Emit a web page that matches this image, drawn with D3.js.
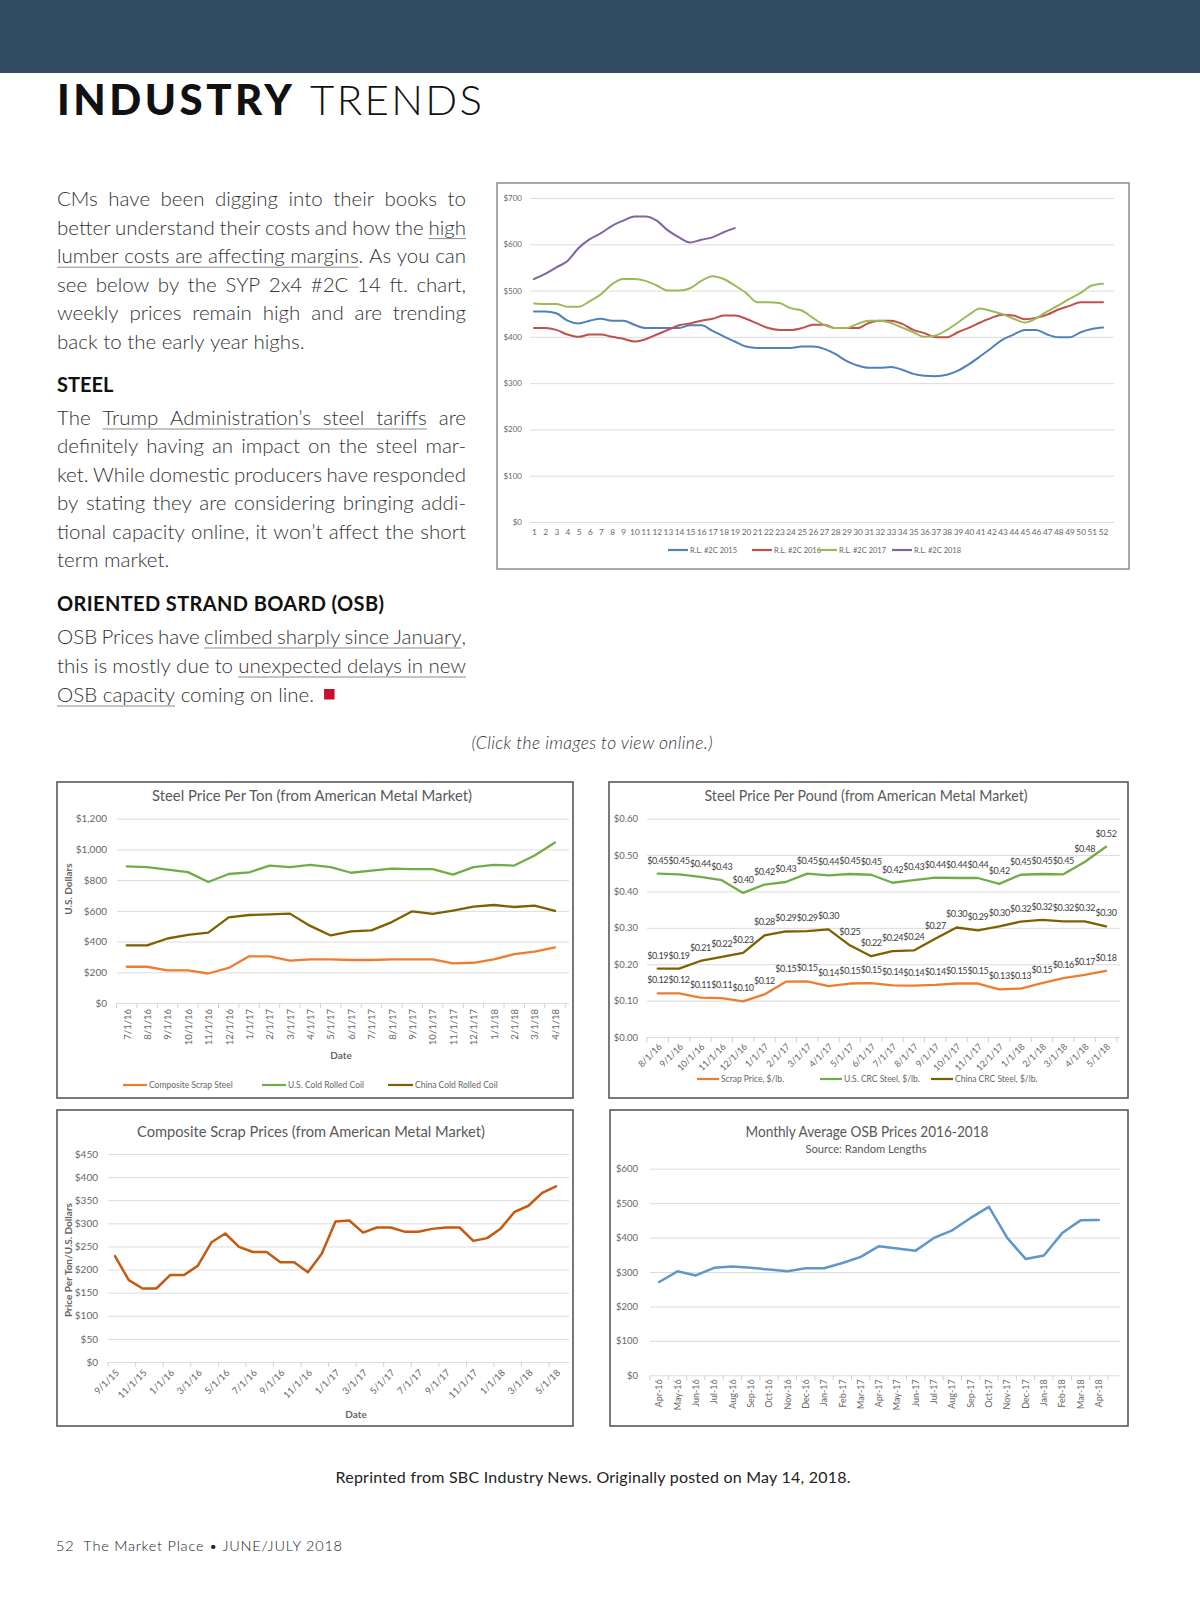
<!DOCTYPE html>
<html>
<head>
<meta charset="utf-8">
<script src="https://cdn.jsdelivr.net/npm/d3@7"></script>
<style>
  body { margin: 0; background: #fff; }
  svg text { font-family: Lato, "Open Sans", sans-serif; }
</style>
</head>
<body>
<svg id="page" width="1200" height="1606"></svg>
<script>
// ---- texte de la page ----
const para1 = [
  "CMs have been digging into their books to",
  "better understand their costs and how the _high_",
  "_lumber costs are affecting margins_. As you can",
  "see below by the SYP 2x4 #2C 14 ft. chart,",
  "weekly prices remain high and are trending",
  "back to the early year highs."
];
const paraSteel = [
  "The _Trump Administration’s steel tariffs_ are",
  "definitely having an impact on the steel mar-",
  "ket. While domestic producers have responded",
  "by stating they are considering bringing addi-",
  "tional capacity online, it won’t affect the short",
  "term market."
];
const paraOsb = [
  "OSB Prices have _climbed sharply since January_,",
  "this is mostly due to _unexpected delays in new_",
  "_OSB capacity_ coming on line."
];

// ---- SYP 2x4 #2C 14 ft, prix hebdo ----
const weeks = [1,2,3,4,5,6,7,8,9,10,11,12,13,14,15,16,17,18,19,20,21,22,23,24,25,26,
  27,28,29,30,31,32,33,34,35,36,37,38,39,40,41,42,43,44,45,46,47,48,49,50,51,52];
const lumberTicks = [0,100,200,300,400,500,600,700];
const lumber2015 = [455,455,451,435,429,435,439,435,435,426,419,419,419,419,425,425,413,401,390,379,
  376,376,376,376,379,379,374,363,348,338,333,333,335,329,320,316,315,318,327,341,358,376,394,405,415,
  415,405,399,399,410,417,420];
const lumber2016 = [419,419,415,405,400,405,405,400,396,390,395,405,415,425,429,435,439,446,446,439,
  429,419,415,415,419,426,426,419,419,419,430,435,435,428,415,408,399,399,410,420,431,441,448,446,438,
  441,448,459,467,475,475,475];
const lumber2017 = [472,471,471,465,465,477,492,514,525,525,521,511,500,500,505,521,531,525,511,495,
  475,475,473,462,457,441,426,419,419,428,435,435,430,420,410,400,403,415,431,448,461,456,449,439,431,
  440,455,468,482,495,511,515];
const lumber2018 = [525,536,550,564,592,611,624,640,651,660,660,651,630,615,604,610,615,626,635];
const lumberNames = ["R.L. #2C 2015","R.L. #2C 2016","R.L. #2C 2017","R.L. #2C 2018"];

// ---- acier, prix a la tonne ----
const tonDates = ["7/1/16","8/1/16","9/1/16","10/1/16","11/1/16","12/1/16","1/1/17","2/1/17","3/1/17",
  "4/1/17","5/1/17","6/1/17","7/1/17","8/1/17","9/1/17","10/1/17","11/1/17","12/1/17","1/1/18","2/1/18",
  "3/1/18","4/1/18"];
const tonTicks = [0,200,400,600,800,1000,1200];
const tonScrap = [236,236,212,212,192,228,304,304,276,284,284,280,280,284,284,284,258,262,284,318,334,362];
const tonUS = [890,885,868,852,788,840,850,895,885,900,885,848,862,875,872,872,836,885,900,895,960,1045];
const tonChina = [375,375,420,443,458,558,573,577,582,502,440,467,473,527,597,580,602,627,638,625,634,600];
const tonNames = ["Composite Scrap Steel","U.S. Cold Rolled Coil","China Cold Rolled Coil"];

// ---- acier, prix a la livre ----
const lbDates = ["8/1/16","9/1/16","10/1/16","11/1/16","12/1/16","1/1/17","2/1/17","3/1/17","4/1/17",
  "5/1/17","6/1/17","7/1/17","8/1/17","9/1/17","10/1/17","11/1/17","12/1/17","1/1/18","2/1/18","3/1/18",
  "4/1/18","5/1/18"];
const lbTicks = [0,0.1,0.2,0.3,0.4,0.5,0.6];
const lbScrap = [0.12,0.12,0.108,0.107,0.098,0.117,0.152,0.153,0.14,0.147,0.148,0.142,0.141,0.143,0.147,
  0.147,0.131,0.133,0.148,0.162,0.171,0.182];
const lbUS = [0.449,0.447,0.44,0.431,0.396,0.419,0.426,0.449,0.444,0.448,0.446,0.424,0.431,0.438,0.437,
  0.437,0.421,0.446,0.448,0.447,0.481,0.523];
const lbChina = [0.188,0.188,0.209,0.22,0.231,0.279,0.29,0.291,0.296,0.252,0.222,0.236,0.238,0.27,0.301,
  0.293,0.304,0.317,0.322,0.318,0.318,0.304];
const lbNames = ["Scrap Price, $/lb.","U.S. CRC Steel, $/lb.","China CRC Steel, $/lb."];

// ---- ferraille composite ----
const scrapMonths = ["9/1/15","10/1/15","11/1/15","12/1/15","1/1/16","2/1/16","3/1/16","4/1/16","5/1/16",
  "6/1/16","7/1/16","8/1/16","9/1/16","10/1/16","11/1/16","12/1/16","1/1/17","2/1/17","3/1/17","4/1/17",
  "5/1/17","6/1/17","7/1/17","8/1/17","9/1/17","10/1/17","11/1/17","12/1/17","1/1/18","2/1/18","3/1/18",
  "4/1/18","5/1/18"];
const scrapTicks = [0,50,100,150,200,250,300,350,400,450];
const scrapPrice = [229,177,159,159,188,188,208,259,278,249,238,238,216,216,194,234,304,306,280,291,
  291,282,282,288,291,291,262,268,289,325,338,366,380];

// ---- OSB ----
const osbMonths = ["Apr-16","May-16","Jun-16","Jul-16","Aug-16","Sep-16","Oct-16","Nov-16","Dec-16",
  "Jan-17","Feb-17","Mar-17","Apr-17","May-17","Jun-17","Jul-17","Aug-17","Sep-17","Oct-17","Nov-17",
  "Dec-17","Jan-18","Feb-18","Mar-18","Apr-18"];
const osbTicks = [0,100,200,300,400,500,600];
const osbPrice = [271,302,290,312,316,312,307,302,311,311,326,344,375,368,362,399,421,457,489,399,
  338,348,413,450,451];

const svg = d3.select("#page");
const grey = "#666";

// bandeau
svg.append("rect").attr("width", 1200).attr("height", 73).attr("fill", "#304a61");

// titre
svg.append("text").attr("x", 57).attr("y", 115).attr("font-size", 42).attr("font-weight", 900)
  .attr("fill", "#111").attr("textLength", 235).attr("lengthAdjust", "spacing").text("INDUSTRY");
svg.append("text").attr("x", 310).attr("y", 115).attr("font-size", 42).attr("font-weight", 300)
  .attr("fill", "#111").attr("textLength", 172).attr("lengthAdjust", "spacing").text("TRENDS");

// texte justifie, mot par mot
const body = svg.append("g").attr("font-size", 20.5).attr("font-weight", 300).attr("fill", "#333");
const probe = body.append("text").text("x x");
const spaceW = probe.node().getComputedTextLength() - (probe.text("xx"), probe.node().getComputedTextLength());
probe.remove();

function underline(run, y) {
  body.append("line").attr("x1", run[0]).attr("x2", run[1]).attr("y1", y + 4).attr("y2", y + 4)
    .attr("stroke", "#8a8a8a").attr("stroke-width", 1);
}

function setText(lines, x, y0, lh, width) {
  const ends = [];
  lines.forEach((src, li) => {
    const y = y0 + li * lh;
    const justify = li < lines.length - 1;
    let u = false;
    const words = src.split(" ").map(w => {
      const parts = [];
      let cur = "";
      for (const ch of w) {
        if (ch === "_") { if (cur) parts.push({ t: cur, u }); cur = ""; u = !u; }
        else cur += ch;
      }
      if (cur) parts.push({ t: cur, u });
      return parts;
    });
    words.forEach(ps => ps.forEach(p => {
      p.node = body.append("text").attr("y", y).text(p.t);
      p.w = p.node.node().getComputedTextLength();
    }));
    const widths = words.map(ps => d3.sum(ps, p => p.w));
    const gap = justify ? (width - d3.sum(widths)) / (words.length - 1) : spaceW;
    let cx = x, run = null;
    words.forEach((ps, wi) => {
      ps.forEach(p => {
        p.node.attr("x", cx);
        if (p.u) { if (run) run[1] = cx + p.w; else run = [cx, cx + p.w]; }
        else if (run) { underline(run, y); run = null; }
        cx += p.w;
      });
      if (wi < words.length - 1) cx += gap;
    });
    if (run) underline(run, y);
    ends.push(cx);
  });
  return ends;
}

setText(para1, 57, 206, 28.6, 409);
svg.append("text").attr("x", 57).attr("y", 392).attr("font-size", 20).attr("font-weight", 700)
  .attr("fill", "#111").text("STEEL");
setText(paraSteel, 57, 425, 28.4, 409);
svg.append("text").attr("x", 57).attr("y", 611).attr("font-size", 20).attr("font-weight", 700)
  .attr("fill", "#111").attr("textLength", 327).attr("lengthAdjust", "spacing")
  .text("ORIENTED STRAND BOARD (OSB)");
const osbEnds = setText(paraOsb, 57, 644, 29, 409);
svg.append("rect").attr("x", osbEnds[2] + 10).attr("y", 689).attr("width", 10.5).attr("height", 10.5)
  .attr("fill", "#c8102e");

svg.append("text").attr("x", 592).attr("y", 749).attr("text-anchor", "middle").attr("font-size", 17.5)
  .attr("font-style", "italic").attr("font-weight", 300).attr("fill", "#333")
  .attr("textLength", 241).attr("lengthAdjust", "spacing")
  .text("(Click the images to view online.)");
svg.append("text").attr("x", 593).attr("y", 1483).attr("text-anchor", "middle").attr("font-size", 16)
  .attr("fill", "#222").attr("textLength", 515).attr("lengthAdjust", "spacing")
  .text("Reprinted from SBC Industry News. Originally posted on May 14, 2018.");
svg.append("text").attr("x", 56).attr("y", 1551).attr("font-size", 14.5).attr("font-weight", 300)
  .attr("fill", "#222").attr("textLength", 286).attr("lengthAdjust", "spacing")
  .style("white-space", "pre").text("52  The Market Place • JUNE/JULY 2018");

// ---- outils des graphiques ----
function frame(x, y, w, h, stroke) {
  svg.append("rect").attr("x", x).attr("y", y).attr("width", w).attr("height", h)
    .attr("fill", "#fff").attr("stroke", stroke).attr("stroke-width", 1.5);
}
function yGrid(y, ticks, fmt, x0, x1, pad, size) {
  const g = svg.append("g").attr("transform", `translate(${x0},0)`)
    .call(d3.axisLeft(y).tickValues(ticks).tickFormat(fmt).tickSize(-(x1 - x0)).tickPadding(pad));
  g.attr("font-family", null).attr("font-size", size);
  g.select(".domain").remove();
  g.selectAll(".tick line").attr("stroke", "#dcdcdc");
  g.selectAll(".tick text").attr("fill", grey);
  return g;
}
function series(xf, y, vals, color, w, curve) {
  svg.append("path").datum(vals).attr("fill", "none").attr("stroke", color).attr("stroke-width", w)
    .attr("stroke-linejoin", "round").attr("stroke-linecap", "round")
    .attr("d", d3.line().x((d, i) => xf(i)).y(d => y(d)).curve(curve || d3.curveLinear));
}
function legendItem(x0, x1, y, color, label, size) {
  svg.append("line").attr("x1", x0).attr("x2", x1).attr("y1", y).attr("y2", y)
    .attr("stroke", color).attr("stroke-width", 2.2);
  svg.append("text").attr("x", x1 + 2).attr("y", y).attr("dy", "0.35em").attr("font-size", size)
    .attr("fill", grey).text(label);
}
function title(x, y, txt, size, len) {
  svg.append("text").attr("x", x).attr("y", y).attr("text-anchor", "middle").attr("font-size", size)
    .attr("fill", "#595959").attr("textLength", len).attr("lengthAdjust", "spacingAndGlyphs").text(txt);
}
function xLabels(xs, y, angle, size, pad, show) {
  const g = svg.append("g").attr("transform", `translate(0,${y})`)
    .call(d3.axisBottom(xs).tickSize(0).tickPadding(0));
  g.attr("font-family", null).attr("font-size", size);
  g.select(".domain").remove();
  g.selectAll(".tick text").attr("fill", grey)
    .attr("text-anchor", "end").attr("y", 0).attr("x", 0).attr("dy", "0.35em")
    .attr("transform", `translate(${angle === -45 ? 2 : 0},${pad}) rotate(${angle})`);
  if (show) g.selectAll(".tick").filter((d, i) => !show(i)).remove();
  return g;
}
// petites graduations entre categories (positions deja calculees par l'echelle)
function boundaryTicks(px, y) {
  svg.append("g").selectAll("line").data(px).join("line")
    .attr("x1", d => d).attr("x2", d => d).attr("y1", y).attr("y2", y + 5)
    .attr("stroke", "#d0d0d0");
}

// ---- graphique 1 : bois ----
frame(497, 183, 632, 386, "#8c8c8c");
const xL = d3.scalePoint().domain(weeks).range([534, 1103]);
const yL = d3.scaleLinear().domain([0, 700]).range([522, 198]);
yGrid(yL, lumberTicks, d => "$" + d, 530, 1114, 8, 8);
const gL = svg.append("g").attr("transform", "translate(0,522)")
  .call(d3.axisBottom(xL).tickSize(0).tickPadding(7));
gL.attr("font-family", null).attr("font-size", 8.3);
gL.select(".domain").remove();
gL.selectAll(".tick text").attr("fill", grey);
const lumberColors = ["#4f81bd", "#c0504d", "#9bbb59", "#8064a2"];
[lumber2015, lumber2016, lumber2017, lumber2018].forEach((s, k) =>
  series(i => xL(weeks[i]), yL, s, lumberColors[k], 2, d3.curveMonotoneX));
[[668, 688], [752, 772], [817, 837], [892, 912]].forEach((p, k) =>
  legendItem(p[0], p[1], 550, lumberColors[k], lumberNames[k], 7.5));

// ---- graphique 2 : acier a la tonne ----
frame(57, 782, 516, 316, "#4d4d4d");
title(312, 801, "Steel Price Per Ton (from American Metal Market)", 15, 320);
const x2 = d3.scalePoint().domain(tonDates).range([126.7, 555]);
const y2 = d3.scaleLinear().domain([0, 1200]).range([1003, 818.7]);
yGrid(y2, tonTicks, d => "$" + d3.format(",")(d), 117, 569, 10, 10);
boundaryTicks(tonDates.map(d => x2(d) - x2.step() / 2).concat([x2(tonDates[21]) + x2.step() / 2]), 1003);
xLabels(x2, 1003, -90, 9.5, 6);
const ton = [[tonScrap, "#ed7d31"], [tonUS, "#70ad47"], [tonChina, "#7f6000"]];
ton.forEach(s => series(i => x2(tonDates[i]), y2, s[0], s[1], 2.3));
svg.append("text").attr("x", 341).attr("y", 1059).attr("text-anchor", "middle").attr("font-size", 10)
  .attr("font-weight", 700).attr("fill", grey).text("Date");
svg.append("text").attr("transform", "translate(72,889) rotate(-90)").attr("text-anchor", "middle")
  .attr("font-size", 10).attr("font-weight", 700).attr("fill", grey).text("U.S. Dollars");
[[123, 147], [262, 286], [388, 413]].forEach((p, k) =>
  legendItem(p[0], p[1], 1085, ton[k][1], tonNames[k], 8.5));

// ---- graphique 3 : acier a la livre ----
frame(609, 782, 519, 316, "#4d4d4d");
title(866, 801, "Steel Price Per Pound (from American Metal Market)", 15, 323);
const x3 = d3.scalePoint().domain(lbDates).range([657.7, 1106]);
const y3 = d3.scaleLinear().domain([0, 0.6]).range([1037, 818.7]);
yGrid(y3, lbTicks, d3.format("$.2f"), 647, 1120, 9, 9.5);
boundaryTicks(lbDates.map(d => x3(d) - x3.step() / 2).concat([x3(lbDates[21]) + x3.step() / 2]), 1037);
xLabels(x3, 1037, -45, 9, 8);
const lb = [[lbScrap, "#ed7d31"], [lbUS, "#70ad47"], [lbChina, "#7f6000"]];
lb.forEach(s => {
  series(i => x3(lbDates[i]), y3, s[0], s[1], 2.3);
  svg.append("g").selectAll("text").data(s[0]).join("text")
    .attr("x", (d, i) => x3(lbDates[i])).attr("y", d => y3(d) - 10)
    .attr("text-anchor", "middle").attr("font-size", 9).attr("letter-spacing", -0.4)
    .attr("fill", "#404040").text(d => d3.format("$.2f")(d));
});
[[697, 719], [820, 842], [931, 953]].forEach((p, k) =>
  legendItem(p[0], p[1], 1079, lb[k][1], lbNames[k], 8.5));

// ---- graphique 4 : ferraille composite ----
frame(57, 1110, 516, 316, "#4d4d4d");
title(311, 1137, "Composite Scrap Prices (from American Metal Market)", 15, 348);
const x4 = d3.scalePoint().domain(scrapMonths).range([115, 556]);
const y4 = d3.scaleLinear().domain([0, 450]).range([1362, 1154]);
yGrid(y4, scrapTicks, d => "$" + d, 108, 569, 10, 10);
boundaryTicks(scrapMonths.filter((d, i) => i % 2 === 0).map(d => x4(d) - x4.step() / 2), 1362);
xLabels(x4, 1362, -45, 9.5, 9, i => i % 2 === 0);
series(i => x4(scrapMonths[i]), y4, scrapPrice, "#c55a11", 2.5);
svg.append("text").attr("transform", "translate(72,1260) rotate(-90)").attr("text-anchor", "middle")
  .attr("font-size", 10).attr("font-weight", 700).attr("fill", grey).text("Price Per Ton/U.S. Dollars");
svg.append("text").attr("x", 356).attr("y", 1418).attr("text-anchor", "middle").attr("font-size", 10)
  .attr("font-weight", 700).attr("fill", grey).text("Date");

// ---- graphique 5 : OSB ----
frame(610, 1110, 518, 316, "#4d4d4d");
title(867, 1137, "Monthly Average OSB Prices 2016-2018", 15, 243);
title(866, 1153, "Source: Random Lengths", 10.5, 121);
const x5 = d3.scaleBand().domain(osbMonths).range([650, 1108]);
const y5 = d3.scaleLinear().domain([0, 600]).range([1375.3, 1168.7]);
yGrid(y5, osbTicks, d => "$" + d, 650, 1120, 12, 9.5);
boundaryTicks(osbMonths.map(d => x5(d)).concat([x5(osbMonths[24]) + x5.bandwidth()]), 1375.3);
xLabels(x5, 1375.3, -90, 9, 4);
series(i => x5(osbMonths[i]) + x5.bandwidth() / 2, y5, osbPrice, "#5f97cc", 2.5);
</script>
</body>
</html>
